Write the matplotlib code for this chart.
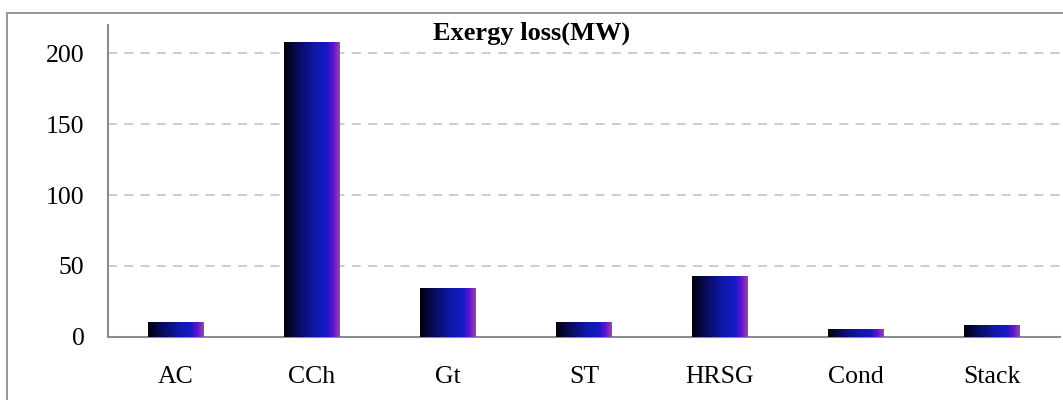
import numpy as np
import matplotlib.pyplot as plt
from matplotlib.colors import LinearSegmentedColormap
from matplotlib.patches import Rectangle

# Exergy loss per component
components = ['AC', 'CCh', 'Gt', 'ST', 'HRSG', 'Cond', 'Stack']
exergy_loss = [10.3, 208.1, 34.4, 10.4, 42.4, 5.4, 8.3]
yticks = [0, 50, 100, 150, 200]

plt.rcParams['font.family'] = ['Liberation Serif', 'DejaVu Serif']

fig = plt.figure(figsize=(10.63, 4.0), dpi=100)
ax = fig.add_axes([108 / 1063, 1 - 336.7 / 400, (1060 - 108) / 1063, (336.7 - 25) / 400])

# outer chart border (cut at right and bottom like the source)
fig.patches.append(Rectangle((7 / 1063, -0.05), 1.1, (400 - 12.5) / 400 + 0.05,
                             transform=fig.transFigure, fill=False,
                             edgecolor='#8c8c8c', linewidth=1.3))

x = np.arange(len(components))
bars = ax.bar(x, exergy_loss, width=0.405, color='none', edgecolor='none', zorder=3)

grad = LinearSegmentedColormap.from_list('grad', [
    (0.0, '#000008'), (0.25, '#080c5c'), (0.55, '#1018a8'),
    (0.75, '#1419c4'), (0.88, '#5a14d0'), (1.0, '#a040b4')])
g = np.linspace(0, 1, 256).reshape(1, -1)
for b in bars:
    x0, y0 = b.get_x(), b.get_y()
    w, h = b.get_width(), b.get_height()
    ax.imshow(g, cmap=grad, aspect='auto', extent=(x0, x0 + w, y0, y0 + h),
              zorder=3, interpolation='bilinear')

ax.set_xlim(-0.5, len(components) - 0.5)
ax.set_ylim(0, 220)
ax.set_xticks(x)
ax.set_xticklabels(components)
ax.set_yticks(yticks)
ax.tick_params(axis='both', length=0, labelsize=18.5, colors='black')
ax.tick_params(axis='y', pad=17)
ax.tick_params(axis='x', pad=21)

ax.yaxis.grid(True, linestyle=(0, (5, 4)), color='#c8c8c8', linewidth=1.3, zorder=0)
ax.set_axisbelow(True)
for s in ['top', 'right']:
    ax.spines[s].set_visible(False)
for s in ['left', 'bottom']:
    ax.spines[s].set_color('#8c8c8c')
    ax.spines[s].set_linewidth(1.5)

fig.text(532 / 1063, 1 - 33 / 400, 'Exergy loss(MW)', ha='center', va='center',
         fontsize=19, fontweight='bold')

fig.savefig('out.png', dpi=100)
